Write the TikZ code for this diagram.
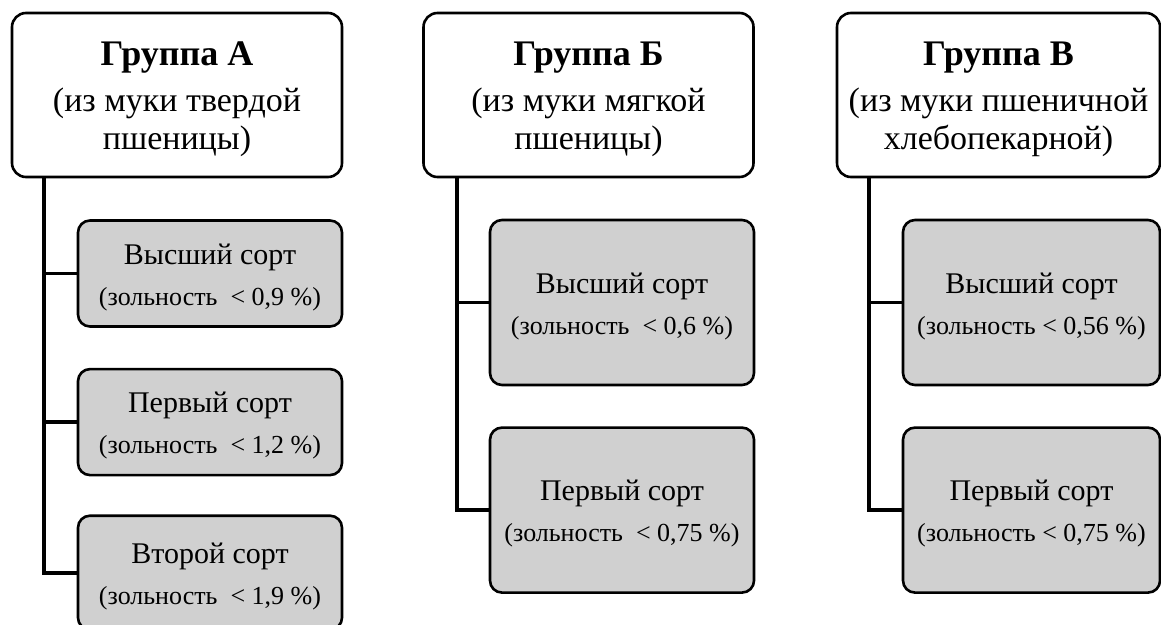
\documentclass[tikz,border=0pt]{standalone}
\usepackage{fontspec}
\setmainfont{Liberation Serif}
\usepackage{xcolor}
\usepackage{tikz}
\usetikzlibrary{positioning}
\definecolor{sortgray}{RGB}{208, 208, 208}
\tikzset{
  grpbox/.style={
    rectangle, rounded corners=14pt, draw=black, line width=2.6pt,
    fill=white, align=center, inner sep=0pt,
    minimum width=330pt, minimum height=164pt,
    font=\fontsize{34}{38}\selectfont
  },
  sortbox/.style={
    rectangle, rounded corners=12pt, draw=black, line width=2.6pt,
    fill=sortgray, align=center, inner sep=0pt,
    minimum width=264pt, minimum height=106pt,
    font=\fontsize{30}{41}\selectfont
  },
  treeline/.style={
    line width=3.6pt, line cap=rect
  },
}
\newcommand{\grptitle}[1]{{\fontsize{36}{40}\selectfont\bfseries\rule{0pt}{32pt}#1}}
\newcommand{\sortname}[1]{\rule{0pt}{28pt}#1}
\newcommand{\ash}[1]{{\fontsize{26}{30}\selectfont #1}}

\begin{document}
\begin{tikzpicture}[x=1pt, y=-1pt]
  \useasboundingbox (0,0) rectangle (1161,624);

  % Groups
  \node[grpbox] (grpA) at (177,95)
    {\grptitle{Группа А}\\[8pt](из муки твердой\\пшеницы)};
  \node[grpbox] (grpB) at (588.5,95)
    {\grptitle{Группа Б}\\[8pt](из муки мягкой\\пшеницы)};
  \node[grpbox, minimum width=323pt] (grpV) at (998.5,95)
    {\grptitle{Группа В}\\[8pt](из муки пшеничной\\хлебопекарной)};

  % Sorts of group A
  \node[sortbox] (a1) at (210,273.5)
    {\sortname{Высший сорт}\\\ash{(зольность\ \ < 0,9 \%)}};
  \node[sortbox, below=40pt of a1] (a2)
    {\sortname{Первый сорт}\\\ash{(зольность\ \ < 1,2 \%)}};
  \node[sortbox, minimum height=114pt, below=38pt of a2] (a3)
    {\sortname{Второй сорт}\\\ash{(зольность\ \ < 1,9 \%)}};

  % Sorts of group B
  \node[sortbox, minimum height=165pt] (b1) at (622,302.5)
    {\sortname{Высший сорт}\\\ash{(зольность\ \ < 0,6 \%)}};
  \node[sortbox, minimum height=165pt, below=40pt of b1] (b2)
    {\sortname{Первый сорт}\\\ash{(зольность\ \ < 0,75 \%)}};

  % Sorts of group V
  \node[sortbox, minimum width=257pt, minimum height=165pt] (v1) at (1031.5,302.5)
    {\sortname{Высший сорт}\\\ash{(зольность < 0,56 \%)}};
  \node[sortbox, minimum width=257pt, minimum height=165pt, below=40pt of v1] (v2)
    {\sortname{Первый сорт}\\\ash{(зольность < 0,75 \%)}};

  % Trunks
  \coordinate (trunkA) at ([xshift=33pt]grpA.south west);
  \coordinate (trunkB) at ([xshift=35pt]grpB.south west);
  \coordinate (trunkV) at ([xshift=33pt]grpV.south west);

  % Connectors
  \draw[treeline] (trunkA) |- (a3.west);
  \draw[treeline] (trunkA |- a1.west) -- (a1.west);
  \draw[treeline] (trunkA |- a2.west) -- (a2.west);
  \draw[treeline] (trunkB) |- (b2.west);
  \draw[treeline] (trunkB |- b1.west) -- (b1.west);
  \draw[treeline] (trunkV) |- (v2.west);
  \draw[treeline] (trunkV |- v1.west) -- (v1.west);
\end{tikzpicture}
\end{document}
